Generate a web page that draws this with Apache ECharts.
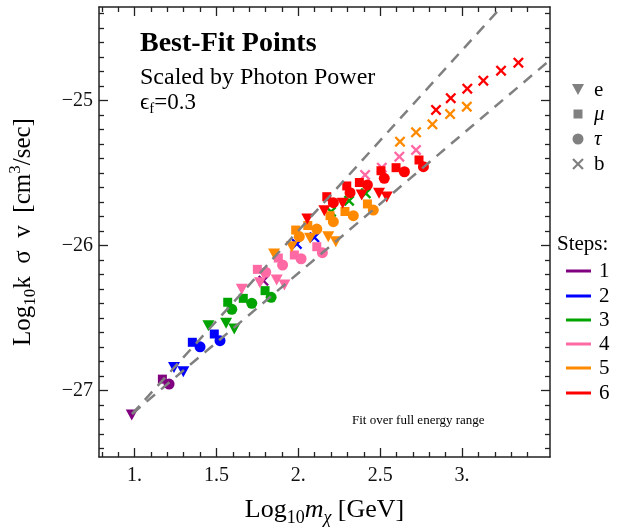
<html>
<head>
<meta charset="UTF-8">
<title>Best-Fit Points</title>
<script type="text/javascript" src="https://cdn.jsdelivr.net/npm/echarts@6/dist/echarts.min.js"></script>
<style>
  body { margin: 0; background: #fff; }
  #main { width: 617px; height: 527px; }
</style>
</head>
<body>
<div id="main"></div>
<script type="text/javascript">
// step number of every point (same order in each channel)
var steps = [1, 2,2, 3,3,3, 4,4,4,4, 5,5,5,5,5, 6,6,6,6,6,6];

// e channel (triangles)
var eMass  = [0.983, 1.241,1.298, 1.451,1.559,1.609, 1.655,1.766,1.868,1.915, 1.852,1.960,2.072,2.183,2.229, 2.055,2.159,2.271,2.387,2.493,2.540];
var eSigma = [-27.168, -26.839,-26.869, -26.552,-26.535,-26.574, -26.301,-26.255,-26.237,-26.271, -26.057,-26.007,-25.949,-25.938,-25.972, -25.816,-25.759,-25.708,-25.650,-25.639,-25.664];
// mu channel (squares)
var muMass  = [1.170, 1.353,1.487, 1.569,1.664,1.797, 1.750,1.878,1.976,2.113, 1.984,2.058,2.194,2.285,2.422, 2.174,2.296,2.373,2.505,2.597,2.737];
var muSigma = [-26.920, -26.666,-26.609, -26.390,-26.363,-26.310, -26.163,-26.085,-26.064,-26.007, -25.892,-25.861,-25.793,-25.764,-25.712, -25.662,-25.588,-25.564,-25.483,-25.462,-25.409];
// tau channel (circles)
var tauMass  = [1.211, 1.400,1.522, 1.594,1.716,1.834, 1.801,1.904,2.017,2.147, 2.006,2.113,2.214,2.336,2.458, 2.214,2.316,2.422,2.525,2.648,2.764];
var tauSigma = [-26.954, -26.697,-26.655, -26.439,-26.397,-26.356, -26.183,-26.133,-26.090,-26.048, -25.937,-25.885,-25.834,-25.793,-25.754, -25.703,-25.634,-25.581,-25.535,-25.490,-25.455];
// b channel (crosses)
var bMass  = [1.787, 1.991,2.098, 2.200,2.310,2.412, 2.408,2.510,2.617,2.719, 2.621,2.719,2.819,2.927,3.029, 2.841,2.931,3.032,3.130,3.238,3.344];
var bSigma = [-26.241, -25.988,-25.942, -25.766,-25.690,-25.639, -25.512,-25.462,-25.386,-25.340, -25.283,-25.218,-25.163,-25.092,-25.041, -25.064,-24.983,-24.917,-24.862,-24.793,-24.738];

// fit lines (dashed)
var fitUpper = [[0.985, -27.16], [3.24, -24.354]];
var fitLower = [[0.985, -27.16], [3.537, -24.72]];

// axes
var xMin = 0.783, xMax = 3.537;
var yMin = -27.457, yMax = -24.354;
var xMajor = [1, 1.5, 2, 2.5, 3];
var xTickLabels = ['1.', '1.5', '2.', '2.5', '3.'];
var yMajor = [-27, -26, -25];
var yTickLabels = ['\u221227', '\u221226', '\u221225'];
var stepNames = ['1', '2', '3', '4', '5', '6'];
var stepColors = ['#800080', '#0000ff', '#00a400', '#ff69a4', '#ff8a00', '#ff0000'];

var xMinor = [], yMinor = [];
for (var v = 8; v <= 35; v++) { if (v % 5 !== 0) xMinor.push(v / 10); }
for (var w = -274; w <= -244; w++) { if (w % 10 !== 0) yMinor.push(w / 10); }

var serif = '"Liberation Serif", "DejaVu Serif", serif';
var crossPath = 'path://M0,1.5L1.5,0L5,3.5L8.5,0L10,1.5L6.5,5L10,8.5L8.5,10L5,6.5L1.5,10L0,8.5L3.5,5Z';

var channels = [
  {name: 'e',   mass: eMass,   sigma: eSigma,   symbol: 'triangle', rotate: 180, size: [12, 11]},
  {name: 'mu',  mass: muMass,  sigma: muSigma,  symbol: 'rect',     rotate: 0,   size: 9},
  {name: 'tau', mass: tauMass, sigma: tauSigma, symbol: 'circle',   rotate: 0,   size: 11},
  {name: 'b',   mass: bMass,   sigma: bSigma,   symbol: crossPath,  rotate: 0,   size: 11}
];

var series = [];
for (var s = 1; s <= 6; s++) {
  channels.forEach(function (c) {
    var pts = [];
    for (var i = 0; i < steps.length; i++) {
      if (steps[i] === s) pts.push([c.mass[i], c.sigma[i]]);
    }
    series.push({
      type: 'scatter', name: c.name + s, data: pts,
      symbol: c.symbol, symbolRotate: c.rotate, symbolSize: c.size,
      itemStyle: {color: stepColors[s - 1], opacity: 1},
      z: 2
    });
  });
}
[fitUpper, fitLower].forEach(function (d) {
  series.push({
    type: 'line', data: d, symbol: 'none', z: 5,
    lineStyle: {color: '#808080', width: 2.5, type: [11, 8]}
  });
});

function tickAxis(pos, min, max, vals, len, withLine) {
  return {
    type: 'value', position: pos, min: min, max: max,
    axisLine: {show: withLine, onZero: false, lineStyle: {color: '#222', width: 1.5}},
    axisTick: {show: true, inside: true, length: len, customValues: vals, lineStyle: {color: '#222', width: 1.3}},
    axisLabel: {show: false},
    splitLine: {show: false}
  };
}

function richSet(big, small, lh) {
  return {
    n:   {fontFamily: serif, fontSize: big, color: '#000', lineHeight: lh},
    s:   {fontFamily: serif, fontSize: small, color: '#000', verticalAlign: 'bottom', lineHeight: small},
    i:   {fontFamily: serif, fontSize: big, color: '#000', fontStyle: 'italic', lineHeight: lh},
    si:  {fontFamily: serif, fontSize: small, color: '#000', fontStyle: 'italic', verticalAlign: 'bottom', lineHeight: small},
    sup: {fontFamily: serif, fontSize: small, color: '#000', verticalAlign: 'top', lineHeight: small}
  };
}

var xBottom = tickAxis('bottom', xMin, xMax, xMajor, 9, true);
xBottom.axisLabel = {
  show: true, customValues: xMajor, margin: 9,
  fontFamily: serif, fontSize: 20, color: '#111',
  formatter: function (val) { return xTickLabels[xMajor.indexOf(val)]; }
};
xBottom.name = '{n|Log}{s|10}{i|m}{si|\u03c7}{n| [GeV]}';
xBottom.nameLocation = 'middle';
xBottom.nameGap = 37;
xBottom.nameTextStyle = {rich: richSet(26, 18, 33)};

var yLeft = tickAxis('left', yMin, yMax, yMajor, 9, true);
yLeft.axisLabel = {
  show: true, customValues: yMajor, margin: 6,
  fontFamily: serif, fontSize: 20, color: '#111',
  formatter: function (val) { return yTickLabels[yMajor.indexOf(val)]; }
};
yLeft.name = '{n|Log}{s|10}{n|k  \u03c3  v  [cm}{sup|3}{n|/sec]}';
yLeft.nameLocation = 'middle';
yLeft.nameRotate = 90;
yLeft.nameGap = 60;
yLeft.nameTextStyle = {rich: richSet(25, 17, 32)};

var graphics = [
  {type: 'text', x: 140, y: 44, style: {text: 'Best-Fit Points', font: 'bold 28px ' + serif, fill: '#000', verticalAlign: 'middle'}},
  {type: 'text', x: 140, y: 78, style: {text: 'Scaled by Photon Power', font: '24px ' + serif, fill: '#000', verticalAlign: 'middle'}},
  {type: 'text', x: 140, y: 103, style: {text: '{n|\u03f5}{s|f}{n|=0.3}', verticalAlign: 'middle',
    rich: {n: {fontFamily: serif, fontSize: 23, fill: '#000', lineHeight: 28}, s: {fontFamily: serif, fontSize: 15, fill: '#000', verticalAlign: 'bottom', lineHeight: 15}}}},
  {type: 'text', x: 352, y: 421, style: {text: 'Fit over full energy range', font: '13px ' + serif, fill: '#000', verticalAlign: 'middle'}},
  {type: 'text', x: 557, y: 244, style: {text: 'Steps:', font: '21px ' + serif, fill: '#000', verticalAlign: 'middle'}}
];

// channel legend
var legY = [90, 114, 139, 164];
var legText = ['e', '\u03bc', '\u03c4', 'b'];
var legItalic = [false, true, true, false];
var gray = '#808080';
graphics.push({type: 'polygon', shape: {points: [[572, 84], [584, 84], [578, 95]]}, style: {fill: gray}});
graphics.push({type: 'rect', shape: {x: 573.5, y: legY[1] - 4.5, width: 9, height: 9}, style: {fill: gray}});
graphics.push({type: 'circle', shape: {cx: 578, cy: legY[2], r: 5.5}, style: {fill: gray}});
graphics.push({type: 'line', shape: {x1: 573, y1: legY[3] - 5, x2: 583, y2: legY[3] + 5}, style: {stroke: gray, lineWidth: 2.2}});
graphics.push({type: 'line', shape: {x1: 573, y1: legY[3] + 5, x2: 583, y2: legY[3] - 5}, style: {stroke: gray, lineWidth: 2.2}});
legText.forEach(function (t, k) {
  graphics.push({type: 'text', x: 594, y: legY[k], style: {text: t, font: (legItalic[k] ? 'italic ' : '') + '21px ' + serif, fill: '#000', verticalAlign: 'middle'}});
});

// steps legend
var stepY = [271, 296, 320, 344, 368, 393];
stepNames.forEach(function (t, k) {
  graphics.push({type: 'line', shape: {x1: 566, y1: stepY[k], x2: 591, y2: stepY[k]}, style: {stroke: stepColors[k], lineWidth: 3}});
  graphics.push({type: 'text', x: 599, y: stepY[k], style: {text: t, font: '21px ' + serif, fill: '#000', verticalAlign: 'middle'}});
});

var myChart = echarts.init(document.getElementById('main'));
myChart.setOption({
  animation: false,
  backgroundColor: '#fff',
  grid: {left: 99, top: 7, width: 451, height: 450, containLabel: false, outerBoundsMode: 'none'},
  xAxis: [
    xBottom,
    tickAxis('bottom', xMin, xMax, xMinor, 5, false),
    tickAxis('top', xMin, xMax, xMajor, 9, true),
    tickAxis('top', xMin, xMax, xMinor, 5, false)
  ],
  yAxis: [
    yLeft,
    tickAxis('left', yMin, yMax, yMinor, 5, false),
    tickAxis('right', yMin, yMax, yMajor, 9, true),
    tickAxis('right', yMin, yMax, yMinor, 5, false)
  ],
  graphic: graphics,
  series: series
});
</script>
</body>
</html>
